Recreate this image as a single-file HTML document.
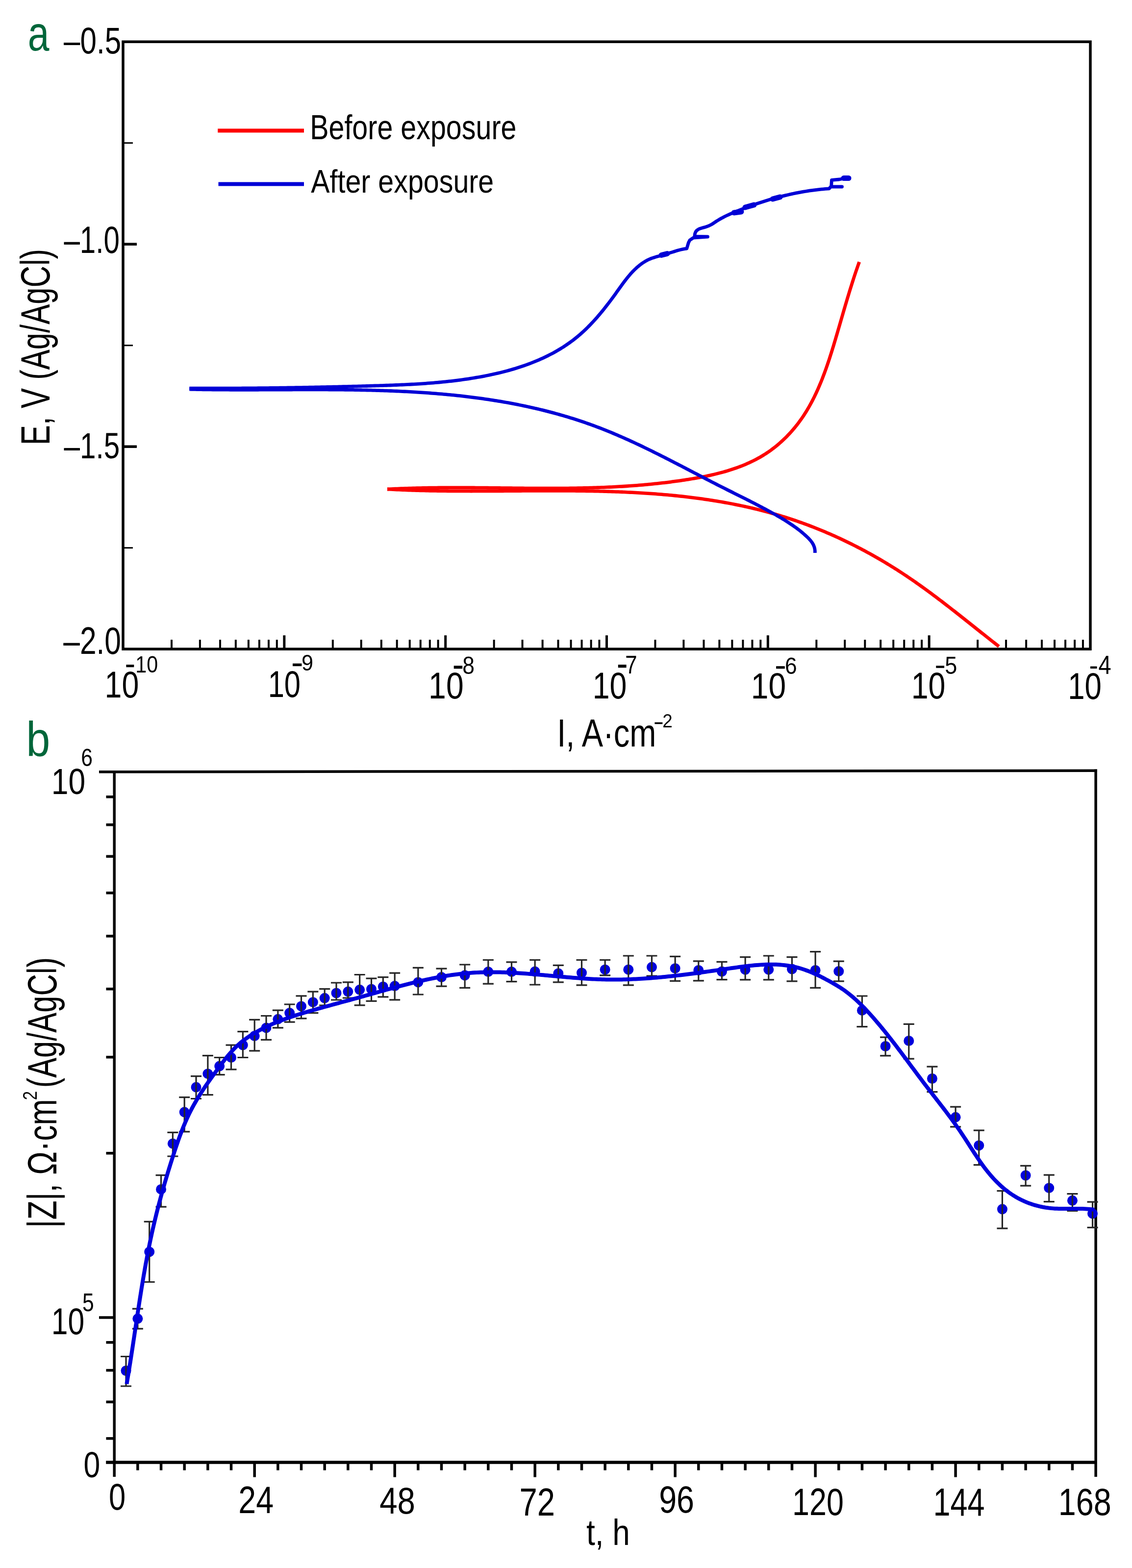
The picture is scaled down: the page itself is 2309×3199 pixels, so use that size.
<!DOCTYPE html>
<html><head><meta charset="utf-8"><title>Polarization curves and impedance modulus</title>
<style>
html,body{margin:0;padding:0;background:#fff;}
svg{display:block;}
text{font-family:"Liberation Sans",Arial,sans-serif;}
</style></head>
<body>
<svg xmlns="http://www.w3.org/2000/svg" width="2309" height="3199" viewBox="0 0 2309 3199">
<rect width="2309" height="3199" fill="#fff"/>
<line x1="349.99" y1="1324.2" x2="349.99" y2="1305.2" stroke="#000" stroke-width="4" stroke-linecap="butt"/>
<line x1="407.89" y1="1324.2" x2="407.89" y2="1305.2" stroke="#000" stroke-width="4" stroke-linecap="butt"/>
<line x1="448.98" y1="1324.2" x2="448.98" y2="1305.2" stroke="#000" stroke-width="4" stroke-linecap="butt"/>
<line x1="480.84" y1="1324.2" x2="480.84" y2="1305.2" stroke="#000" stroke-width="4" stroke-linecap="butt"/>
<line x1="506.88" y1="1324.2" x2="506.88" y2="1305.2" stroke="#000" stroke-width="4" stroke-linecap="butt"/>
<line x1="528.9" y1="1324.2" x2="528.9" y2="1305.2" stroke="#000" stroke-width="4" stroke-linecap="butt"/>
<line x1="547.97" y1="1324.2" x2="547.97" y2="1305.2" stroke="#000" stroke-width="4" stroke-linecap="butt"/>
<line x1="564.79" y1="1324.2" x2="564.79" y2="1305.2" stroke="#000" stroke-width="4" stroke-linecap="butt"/>
<line x1="579.83" y1="1324.2" x2="579.83" y2="1296.2" stroke="#000" stroke-width="5" stroke-linecap="butt"/>
<line x1="678.82" y1="1324.2" x2="678.82" y2="1305.2" stroke="#000" stroke-width="4" stroke-linecap="butt"/>
<line x1="736.73" y1="1324.2" x2="736.73" y2="1305.2" stroke="#000" stroke-width="4" stroke-linecap="butt"/>
<line x1="777.81" y1="1324.2" x2="777.81" y2="1305.2" stroke="#000" stroke-width="4" stroke-linecap="butt"/>
<line x1="809.68" y1="1324.2" x2="809.68" y2="1305.2" stroke="#000" stroke-width="4" stroke-linecap="butt"/>
<line x1="835.72" y1="1324.2" x2="835.72" y2="1305.2" stroke="#000" stroke-width="4" stroke-linecap="butt"/>
<line x1="857.73" y1="1324.2" x2="857.73" y2="1305.2" stroke="#000" stroke-width="4" stroke-linecap="butt"/>
<line x1="876.8" y1="1324.2" x2="876.8" y2="1305.2" stroke="#000" stroke-width="4" stroke-linecap="butt"/>
<line x1="893.62" y1="1324.2" x2="893.62" y2="1305.2" stroke="#000" stroke-width="4" stroke-linecap="butt"/>
<line x1="908.67" y1="1324.2" x2="908.67" y2="1296.2" stroke="#000" stroke-width="5" stroke-linecap="butt"/>
<line x1="1007.66" y1="1324.2" x2="1007.66" y2="1305.2" stroke="#000" stroke-width="4" stroke-linecap="butt"/>
<line x1="1065.56" y1="1324.2" x2="1065.56" y2="1305.2" stroke="#000" stroke-width="4" stroke-linecap="butt"/>
<line x1="1106.64" y1="1324.2" x2="1106.64" y2="1305.2" stroke="#000" stroke-width="4" stroke-linecap="butt"/>
<line x1="1138.51" y1="1324.2" x2="1138.51" y2="1305.2" stroke="#000" stroke-width="4" stroke-linecap="butt"/>
<line x1="1164.55" y1="1324.2" x2="1164.55" y2="1305.2" stroke="#000" stroke-width="4" stroke-linecap="butt"/>
<line x1="1186.56" y1="1324.2" x2="1186.56" y2="1305.2" stroke="#000" stroke-width="4" stroke-linecap="butt"/>
<line x1="1205.63" y1="1324.2" x2="1205.63" y2="1305.2" stroke="#000" stroke-width="4" stroke-linecap="butt"/>
<line x1="1222.45" y1="1324.2" x2="1222.45" y2="1305.2" stroke="#000" stroke-width="4" stroke-linecap="butt"/>
<line x1="1237.5" y1="1324.2" x2="1237.5" y2="1296.2" stroke="#000" stroke-width="5" stroke-linecap="butt"/>
<line x1="1336.49" y1="1324.2" x2="1336.49" y2="1305.2" stroke="#000" stroke-width="4" stroke-linecap="butt"/>
<line x1="1394.39" y1="1324.2" x2="1394.39" y2="1305.2" stroke="#000" stroke-width="4" stroke-linecap="butt"/>
<line x1="1435.48" y1="1324.2" x2="1435.48" y2="1305.2" stroke="#000" stroke-width="4" stroke-linecap="butt"/>
<line x1="1467.34" y1="1324.2" x2="1467.34" y2="1305.2" stroke="#000" stroke-width="4" stroke-linecap="butt"/>
<line x1="1493.38" y1="1324.2" x2="1493.38" y2="1305.2" stroke="#000" stroke-width="4" stroke-linecap="butt"/>
<line x1="1515.4" y1="1324.2" x2="1515.4" y2="1305.2" stroke="#000" stroke-width="4" stroke-linecap="butt"/>
<line x1="1534.47" y1="1324.2" x2="1534.47" y2="1305.2" stroke="#000" stroke-width="4" stroke-linecap="butt"/>
<line x1="1551.29" y1="1324.2" x2="1551.29" y2="1305.2" stroke="#000" stroke-width="4" stroke-linecap="butt"/>
<line x1="1566.33" y1="1324.2" x2="1566.33" y2="1296.2" stroke="#000" stroke-width="5" stroke-linecap="butt"/>
<line x1="1665.32" y1="1324.2" x2="1665.32" y2="1305.2" stroke="#000" stroke-width="4" stroke-linecap="butt"/>
<line x1="1723.23" y1="1324.2" x2="1723.23" y2="1305.2" stroke="#000" stroke-width="4" stroke-linecap="butt"/>
<line x1="1764.31" y1="1324.2" x2="1764.31" y2="1305.2" stroke="#000" stroke-width="4" stroke-linecap="butt"/>
<line x1="1796.18" y1="1324.2" x2="1796.18" y2="1305.2" stroke="#000" stroke-width="4" stroke-linecap="butt"/>
<line x1="1822.22" y1="1324.2" x2="1822.22" y2="1305.2" stroke="#000" stroke-width="4" stroke-linecap="butt"/>
<line x1="1844.23" y1="1324.2" x2="1844.23" y2="1305.2" stroke="#000" stroke-width="4" stroke-linecap="butt"/>
<line x1="1863.3" y1="1324.2" x2="1863.3" y2="1305.2" stroke="#000" stroke-width="4" stroke-linecap="butt"/>
<line x1="1880.12" y1="1324.2" x2="1880.12" y2="1305.2" stroke="#000" stroke-width="4" stroke-linecap="butt"/>
<line x1="1895.17" y1="1324.2" x2="1895.17" y2="1296.2" stroke="#000" stroke-width="5" stroke-linecap="butt"/>
<line x1="1994.16" y1="1324.2" x2="1994.16" y2="1305.2" stroke="#000" stroke-width="4" stroke-linecap="butt"/>
<line x1="2052.06" y1="1324.2" x2="2052.06" y2="1305.2" stroke="#000" stroke-width="4" stroke-linecap="butt"/>
<line x1="2093.14" y1="1324.2" x2="2093.14" y2="1305.2" stroke="#000" stroke-width="4" stroke-linecap="butt"/>
<line x1="2125.01" y1="1324.2" x2="2125.01" y2="1305.2" stroke="#000" stroke-width="4" stroke-linecap="butt"/>
<line x1="2151.05" y1="1324.2" x2="2151.05" y2="1305.2" stroke="#000" stroke-width="4" stroke-linecap="butt"/>
<line x1="2173.06" y1="1324.2" x2="2173.06" y2="1305.2" stroke="#000" stroke-width="4" stroke-linecap="butt"/>
<line x1="2192.13" y1="1324.2" x2="2192.13" y2="1305.2" stroke="#000" stroke-width="4" stroke-linecap="butt"/>
<line x1="2208.95" y1="1324.2" x2="2208.95" y2="1305.2" stroke="#000" stroke-width="4" stroke-linecap="butt"/>
<line x1="251" y1="498.2" x2="279" y2="498.2" stroke="#000" stroke-width="5.5" stroke-linecap="butt"/>
<line x1="251" y1="911.2" x2="279" y2="911.2" stroke="#000" stroke-width="5.5" stroke-linecap="butt"/>
<line x1="251" y1="291.7" x2="271" y2="291.7" stroke="#000" stroke-width="3" stroke-linecap="butt"/>
<line x1="251" y1="704.7" x2="271" y2="704.7" stroke="#000" stroke-width="3" stroke-linecap="butt"/>
<line x1="251" y1="1117.7" x2="271" y2="1117.7" stroke="#000" stroke-width="3" stroke-linecap="butt"/>
<rect x="251" y="85.2" width="1973" height="1239" fill="none" stroke="#000" stroke-width="5.5"/>
<text transform="translate(130 108.64) scale(0.06019 0.07627)" font-size="1000" fill="#000">–0.5</text>
<text transform="translate(130.4 515.93) scale(0.05833 0.07698)" font-size="1000" fill="#000">–1.0</text>
<text transform="translate(130.4 934.55) scale(0.05846 0.07493)" font-size="1000" fill="#000">–1.5</text>
<text transform="translate(129.3 1334.03) scale(0.06048 0.07740)" font-size="1000" fill="#000">–2.0</text>
<text transform="translate(213.53 1423.05) scale(0.06273 0.07542)" font-size="1000" fill="#000">10</text>
<rect x="257.4" y="1356" width="15.9" height="5.2" fill="#000"/>
<text transform="translate(276.26 1372.02) scale(0.04128 0.04831)" font-size="1000" fill="#000">10</text>
<text transform="translate(546.66 1421.55) scale(0.05972 0.07542)" font-size="1000" fill="#000">10</text>
<rect x="597" y="1353.6" width="18.4" height="5.5" fill="#000"/>
<text transform="translate(614.92 1368.45) scale(0.04307 0.04534)" font-size="1000" fill="#000">9</text>
<text transform="translate(874.11 1424.64) scale(0.06433 0.07556)" font-size="1000" fill="#000">10</text>
<rect x="925.7" y="1358.2" width="17.5" height="6.1" fill="#000"/>
<text transform="translate(943.34 1374.5) scale(0.04444 0.04958)" font-size="1000" fill="#000">8</text>
<text transform="translate(1208.73 1424.64) scale(0.06273 0.07556)" font-size="1000" fill="#000">10</text>
<rect x="1260.8" y="1356" width="16.8" height="6.2" fill="#000"/>
<text transform="translate(1275.32 1373.5) scale(0.04383 0.05116)" font-size="1000" fill="#000">7</text>
<text transform="translate(1531.82 1424.67) scale(0.06423 0.07331)" font-size="1000" fill="#000">10</text>
<rect x="1583.1" y="1359.1" width="17.7" height="5.2" fill="#000"/>
<text transform="translate(1600.98 1374.53) scale(0.04437 0.04746)" font-size="1000" fill="#000">6</text>
<text transform="translate(1858.73 1424.64) scale(0.06273 0.07556)" font-size="1000" fill="#000">10</text>
<rect x="1909.3" y="1358.2" width="16.8" height="4.6" fill="#000"/>
<text transform="translate(1927.29 1374.5) scale(0.04515 0.05029)" font-size="1000" fill="#000">5</text>
<text transform="translate(2178.2 1426.44) scale(0.06182 0.07599)" font-size="1000" fill="#000">10</text>
<rect x="2224" y="1359.5" width="13.5" height="4.5" fill="#000"/>
<text transform="translate(2240.47 1375) scale(0.04702 0.05407)" font-size="1000" fill="#000">4</text>
<text transform="translate(1136.22 1523) scale(0.06499 0.07951)" font-size="1000" fill="#000">I, A·cm</text>
<rect x="1335.4" y="1473.6" width="16" height="3.6" fill="#000"/>
<text transform="translate(1351.16 1484.4) scale(0.03684 0.03840)" font-size="1000" fill="#000">2</text>
<text transform="translate(100.5 908.25) rotate(-90) scale(0.06159 0.08299)" font-size="1000" fill="#000">E, V (Ag/AgCl)</text>
<text transform="translate(56.7 102.91) scale(0.07860 0.09945)" font-size="1000" fill="#00663a">a</text>
<line x1="444.2" y1="266.6" x2="620" y2="266.6" stroke="#fe0000" stroke-width="8" stroke-linecap="butt"/>
<line x1="445.5" y1="375.5" x2="620" y2="375.5" stroke="#0000d6" stroke-width="8" stroke-linecap="butt"/>
<text transform="translate(632.19 284.2) scale(0.05742 0.07093)" font-size="1000" fill="#000">Before exposure</text>
<text transform="translate(634.29 393.4) scale(0.05736 0.06686)" font-size="1000" fill="#000">After exposure</text>
<path d="M790.01 997.99 L793.93 998.21 L797.86 998.42 L801.79 998.63 L805.72 998.83 L809.66 999.02 L813.59 999.2 L817.54 999.37 L821.48 999.54 L825.43 999.7 L829.38 999.86 L833.33 1000.01 L837.29 1000.15 L841.25 1000.28 L845.21 1000.41 L849.18 1000.54 L853.14 1000.65 L857.11 1000.76 L861.09 1000.87 L865.06 1000.97 L869.04 1001.06 L873.02 1001.15 L877 1001.23 L880.98 1001.31 L884.97 1001.38 L888.96 1001.45 L892.95 1001.51 L896.95 1001.57 L900.94 1001.63 L904.94 1001.68 L908.94 1001.72 L912.94 1001.76 L916.95 1001.8 L920.96 1001.83 L924.96 1001.86 L928.97 1001.89 L932.99 1001.91 L937 1001.93 L941.02 1001.94 L945.03 1001.96 L949.05 1001.96 L953.08 1001.97 L957.1 1001.97 L961.12 1001.98 L965.15 1001.97 L969.18 1001.97 L973.21 1001.96 L977.24 1001.95 L981.27 1001.94 L985.3 1001.93 L989.34 1001.92 L993.37 1001.9 L997.41 1001.88 L1001.45 1001.86 L1005.49 1001.84 L1009.53 1001.82 L1013.58 1001.8 L1017.62 1001.78 L1021.66 1001.75 L1025.71 1001.73 L1029.76 1001.7 L1033.8 1001.68 L1037.85 1001.65 L1041.9 1001.63 L1045.95 1001.6 L1050.01 1001.57 L1054.06 1001.55 L1058.11 1001.52 L1062.16 1001.5 L1066.22 1001.47 L1070.27 1001.45 L1074.33 1001.43 L1078.38 1001.4 L1082.44 1001.38 L1086.5 1001.36 L1090.56 1001.34 L1094.61 1001.33 L1098.67 1001.31 L1102.73 1001.3 L1106.79 1001.29 L1110.85 1001.28 L1114.91 1001.27 L1118.97 1001.26 L1123.03 1001.26 L1127.09 1001.26 L1131.15 1001.26 L1135.21 1001.27 L1139.27 1001.28 L1143.33 1001.29 L1147.39 1001.3 L1151.45 1001.32 L1155.51 1001.34 L1159.57 1001.36 L1163.63 1001.39 L1167.69 1001.42 L1171.75 1001.45 L1175.8 1001.49 L1179.86 1001.53 L1183.92 1001.58 L1187.98 1001.63 L1192.03 1001.69 L1196.09 1001.75 L1200.15 1001.81 L1204.2 1001.88 L1208.26 1001.96 L1212.31 1002.04 L1216.36 1002.12 L1220.42 1002.22 L1224.47 1002.31 L1228.52 1002.41 L1232.57 1002.52 L1236.62 1002.63 L1240.67 1002.75 L1244.71 1002.88 L1248.76 1003.01 L1252.8 1003.15 L1256.85 1003.29 L1260.89 1003.44 L1264.93 1003.6 L1268.97 1003.77 L1273.01 1003.94 L1277.05 1004.12 L1281.09 1004.3 L1285.13 1004.49 L1289.16 1004.69 L1293.19 1004.9 L1297.22 1005.12 L1301.25 1005.34 L1305.28 1005.57 L1309.31 1005.81 L1313.33 1006.06 L1317.36 1006.32 L1321.38 1006.58 L1325.4 1006.86 L1329.42 1007.14 L1333.44 1007.43 L1337.45 1007.73 L1341.46 1008.04 L1345.48 1008.36 L1349.48 1008.69 L1353.49 1009.02 L1357.5 1009.37 L1361.5 1009.73 L1365.5 1010.09 L1369.5 1010.47 L1373.5 1010.85 L1377.49 1011.25 L1381.49 1011.66 L1385.48 1012.08 L1389.46 1012.5 L1393.45 1012.94 L1397.43 1013.39 L1401.41 1013.85 L1405.39 1014.32 L1409.37 1014.81 L1413.34 1015.3 L1417.31 1015.81 L1421.28 1016.32 L1425.25 1016.85 L1429.21 1017.39 L1433.17 1017.95 L1437.13 1018.51 L1441.08 1019.09 L1445.03 1019.68 L1448.98 1020.28 L1452.93 1020.9 L1456.87 1021.52 L1460.81 1022.16 L1464.75 1022.82 L1468.69 1023.48 L1472.62 1024.16 L1476.54 1024.85 L1480.47 1025.56 L1484.39 1026.28 L1488.31 1027.01 L1492.23 1027.76 L1496.14 1028.52 L1500.05 1029.3 L1503.95 1030.09 L1507.85 1030.89 L1511.75 1031.71 L1515.65 1032.54 L1519.54 1033.39 L1523.43 1034.26 L1527.31 1035.13 L1531.19 1036.03 L1535.07 1036.93 L1538.94 1037.86 L1542.81 1038.8 L1546.68 1039.75 L1550.54 1040.72 L1554.4 1041.71 L1558.25 1042.71 L1562.1 1043.73 L1565.95 1044.76 L1569.79 1045.81 L1573.63 1046.88 L1577.46 1047.96 L1581.29 1049.06 L1585.12 1050.18 L1588.94 1051.32 L1592.76 1052.47 L1596.57 1053.64 L1600.38 1054.82 L1604.18 1056.03 L1607.98 1057.25 L1611.78 1058.48 L1615.57 1059.74 L1619.36 1061.01 L1623.14 1062.3 L1626.91 1063.61 L1630.69 1064.93 L1634.45 1066.27 L1638.22 1067.63 L1641.97 1069 L1645.72 1070.39 L1649.47 1071.8 L1653.21 1073.22 L1656.95 1074.66 L1660.68 1076.12 L1664.41 1077.59 L1668.13 1079.08 L1671.84 1080.59 L1675.55 1082.11 L1679.26 1083.65 L1682.95 1085.2 L1686.65 1086.77 L1690.33 1088.36 L1694.01 1089.96 L1697.69 1091.58 L1701.35 1093.21 L1705.02 1094.86 L1708.67 1096.52 L1712.32 1098.2 L1715.96 1099.9 L1719.6 1101.61 L1723.23 1103.34 L1726.85 1105.08 L1730.47 1106.83 L1734.08 1108.61 L1737.69 1110.39 L1741.28 1112.2 L1744.87 1114.01 L1748.46 1115.85 L1752.03 1117.69 L1755.6 1119.56 L1759.16 1121.43 L1762.72 1123.32 L1766.27 1125.23 L1769.81 1127.15 L1773.34 1129.08 L1776.86 1131.03 L1780.38 1133 L1783.89 1134.98 L1787.39 1136.97 L1790.89 1138.98 L1794.38 1141 L1797.86 1143.03 L1801.33 1145.08 L1804.79 1147.14 L1808.25 1149.22 L1811.69 1151.31 L1815.13 1153.41 L1818.56 1155.53 L1821.98 1157.66 L1825.4 1159.81 L1828.8 1161.97 L1832.2 1164.14 L1835.59 1166.32 L1838.97 1168.52 L1842.34 1170.73 L1845.7 1172.96 L1849.06 1175.19 L1852.4 1177.45 L1855.74 1179.71 L1859.07 1181.98 L1862.39 1184.27 L1865.7 1186.57 L1869.01 1188.88 L1872.3 1191.2 L1875.59 1193.53 L1878.88 1195.87 L1882.15 1198.22 L1885.42 1200.58 L1888.68 1202.95 L1891.94 1205.32 L1895.19 1207.71 L1898.43 1210.1 L1901.67 1212.51 L1904.9 1214.92 L1908.13 1217.33 L1911.35 1219.76 L1914.56 1222.19 L1917.77 1224.63 L1920.98 1227.07 L1924.18 1229.52 L1927.37 1231.98 L1930.57 1234.44 L1933.75 1236.9 L1936.93 1239.37 L1940.11 1241.84 L1943.29 1244.32 L1946.46 1246.8 L1949.63 1249.29 L1952.79 1251.77 L1955.95 1254.26 L1959.11 1256.76 L1962.27 1259.25 L1965.42 1261.75 L1968.57 1264.24 L1971.72 1266.74 L1974.86 1269.24 L1978.01 1271.74 L1981.15 1274.24 L1984.29 1276.74 L1987.43 1279.24 L1990.57 1281.74 L1993.7 1284.24 L1996.84 1286.73 L1999.97 1289.23 L2003.11 1291.72 L2006.24 1294.21 L2009.38 1296.69 L2012.51 1299.18 L2015.64 1301.66 L2018.78 1304.14 L2021.91 1306.61 L2025.05 1309.08 L2028.18 1311.54 L2031.32 1314 L2034.46 1316.46 L2037.59 1318.91" fill="none" stroke="#fe0000" stroke-width="6.8" stroke-linejoin="round" stroke-linecap="butt"/>
<path d="M790 998.01 L794.03 997.8 L798.07 997.6 L802.1 997.4 L806.14 997.22 L810.17 997.05 L814.2 996.88 L818.23 996.72 L822.26 996.57 L826.29 996.42 L830.31 996.29 L834.34 996.16 L838.37 996.04 L842.39 995.92 L846.42 995.81 L850.44 995.71 L854.46 995.62 L858.49 995.53 L862.51 995.45 L866.53 995.37 L870.55 995.3 L874.57 995.24 L878.59 995.18 L882.61 995.12 L886.62 995.08 L890.64 995.03 L894.66 995 L898.67 994.96 L902.69 994.94 L906.7 994.91 L910.72 994.89 L914.73 994.88 L918.75 994.87 L922.76 994.86 L926.77 994.86 L930.78 994.86 L934.79 994.87 L938.8 994.87 L942.81 994.88 L946.82 994.9 L950.83 994.92 L954.84 994.94 L958.85 994.96 L962.86 994.98 L966.87 995.01 L970.87 995.04 L974.88 995.07 L978.89 995.1 L982.89 995.14 L986.9 995.18 L990.9 995.21 L994.91 995.25 L998.91 995.29 L1002.92 995.33 L1006.92 995.38 L1010.93 995.42 L1014.93 995.46 L1018.94 995.5 L1022.94 995.55 L1026.94 995.59 L1030.94 995.63 L1034.95 995.68 L1038.95 995.72 L1042.95 995.76 L1046.95 995.8 L1050.96 995.84 L1054.96 995.88 L1058.96 995.92 L1062.96 995.96 L1066.96 995.99 L1070.97 996.03 L1074.97 996.06 L1078.97 996.09 L1082.97 996.12 L1086.97 996.14 L1090.97 996.17 L1094.97 996.19 L1098.97 996.21 L1102.98 996.22 L1106.98 996.23 L1110.98 996.24 L1114.98 996.25 L1118.98 996.25 L1122.98 996.25 L1126.98 996.24 L1130.99 996.23 L1134.99 996.22 L1138.99 996.2 L1142.99 996.18 L1146.99 996.15 L1151 996.12 L1155 996.09 L1159 996.05 L1163 996 L1167.01 995.95 L1171.01 995.89 L1175.01 995.83 L1179.02 995.76 L1183.02 995.69 L1187.02 995.61 L1191.03 995.52 L1195.03 995.43 L1199.04 995.33 L1203.04 995.22 L1207.05 995.11 L1211.05 994.99 L1215.06 994.86 L1219.07 994.73 L1223.07 994.59 L1227.08 994.44 L1231.09 994.28 L1235.1 994.12 L1239.11 993.94 L1243.12 993.76 L1247.12 993.57 L1251.13 993.38 L1255.14 993.17 L1259.16 992.96 L1263.17 992.73 L1267.18 992.5 L1271.19 992.26 L1275.2 992 L1279.22 991.74 L1283.23 991.47 L1287.24 991.19 L1291.26 990.9 L1295.27 990.6 L1299.29 990.29 L1303.31 989.96 L1307.32 989.63 L1311.34 989.29 L1315.36 988.93 L1319.38 988.57 L1323.4 988.19 L1327.42 987.8 L1331.44 987.4 L1335.46 986.99 L1339.49 986.57 L1343.51 986.14 L1347.53 985.69 L1351.56 985.23 L1355.58 984.76 L1359.61 984.27 L1363.64 983.78 L1367.66 983.27 L1371.69 982.74 L1375.72 982.21 L1379.75 981.66 L1383.78 981.09 L1387.82 980.52 L1391.85 979.93 L1395.88 979.32 L1399.92 978.7 L1403.95 978.07 L1407.98 977.42 L1412.01 976.75 L1416.04 976.06 L1420.06 975.36 L1424.08 974.63 L1428.1 973.88 L1432.11 973.12 L1436.11 972.33 L1440.1 971.51 L1444.09 970.67 L1448.07 969.81 L1452.03 968.91 L1455.99 968 L1459.93 967.05 L1463.87 966.07 L1467.78 965.07 L1471.69 964.03 L1475.58 962.96 L1479.45 961.86 L1483.31 960.72 L1487.15 959.55 L1490.97 958.34 L1494.78 957.1 L1498.56 955.82 L1502.33 954.5 L1506.07 953.14 L1509.79 951.74 L1513.49 950.3 L1517.16 948.82 L1520.81 947.3 L1524.43 945.73 L1528.03 944.11 L1531.6 942.46 L1535.15 940.75 L1538.66 939 L1542.15 937.19 L1545.6 935.34 L1549.03 933.44 L1552.42 931.49 L1555.78 929.48 L1559.11 927.43 L1562.41 925.31 L1565.66 923.15 L1568.89 920.93 L1572.08 918.67 L1575.23 916.35 L1578.35 913.98 L1581.43 911.56 L1584.48 909.09 L1587.49 906.58 L1590.46 904.02 L1593.4 901.41 L1596.29 898.76 L1599.15 896.07 L1601.97 893.33 L1604.75 890.54 L1607.5 887.72 L1610.2 884.86 L1612.86 881.95 L1615.49 879 L1618.07 876.02 L1620.61 873 L1623.11 869.94 L1625.57 866.84 L1627.99 863.71 L1630.36 860.55 L1632.69 857.35 L1634.98 854.11 L1637.23 850.85 L1639.43 847.55 L1641.6 844.22 L1643.72 840.86 L1645.8 837.48 L1647.84 834.06 L1649.84 830.62 L1651.81 827.15 L1653.73 823.65 L1655.63 820.13 L1657.48 816.58 L1659.3 813.01 L1661.09 809.42 L1662.85 805.8 L1664.57 802.17 L1666.26 798.51 L1667.93 794.83 L1669.56 791.14 L1671.16 787.42 L1672.74 783.69 L1674.29 779.94 L1675.82 776.18 L1677.31 772.4 L1678.79 768.61 L1680.24 764.8 L1681.67 760.98 L1683.07 757.15 L1684.46 753.31 L1685.82 749.45 L1687.17 745.59 L1688.5 741.72 L1689.8 737.84 L1691.1 733.96 L1692.37 730.07 L1693.63 726.17 L1694.88 722.27 L1696.11 718.36 L1697.34 714.45 L1698.54 710.54 L1699.74 706.63 L1700.93 702.72 L1702.11 698.8 L1703.28 694.89 L1704.44 690.98 L1705.59 687.07 L1706.74 683.17 L1707.89 679.27 L1709.03 675.37 L1710.16 671.48 L1711.3 667.59 L1712.43 663.71 L1713.55 659.83 L1714.68 655.96 L1715.8 652.09 L1716.92 648.22 L1718.05 644.36 L1719.17 640.51 L1720.29 636.66 L1721.42 632.81 L1722.54 628.97 L1723.67 625.13 L1724.8 621.3 L1725.94 617.47 L1727.08 613.64 L1728.22 609.82 L1729.36 606.01 L1730.52 602.2 L1731.67 598.39 L1732.84 594.58 L1734.01 590.79 L1735.18 586.99 L1736.37 583.2 L1737.56 579.42 L1738.77 575.63 L1739.98 571.86 L1741.2 568.08 L1742.43 564.31 L1743.67 560.55 L1744.92 556.79 L1746.19 553.03 L1747.47 549.28 L1748.76 545.53 L1750.06 541.78 L1751.38 538.04 L1752.71 534.31" fill="none" stroke="#fe0000" stroke-width="6.8" stroke-linejoin="round" stroke-linecap="butt"/>
<path d="M386.3 794.2 L390.26 794.29 L394.23 794.37 L398.19 794.45 L402.16 794.53 L406.13 794.6 L410.11 794.66 L414.08 794.73 L418.06 794.78 L422.04 794.84 L426.02 794.89 L430 794.94 L433.99 794.98 L437.98 795.02 L441.97 795.06 L445.96 795.09 L449.95 795.12 L453.94 795.15 L457.94 795.17 L461.94 795.19 L465.94 795.21 L469.94 795.23 L473.95 795.24 L477.95 795.25 L481.96 795.26 L485.97 795.26 L489.98 795.27 L493.99 795.27 L498 795.27 L502.01 795.27 L506.03 795.27 L510.05 795.26 L514.07 795.25 L518.09 795.25 L522.11 795.24 L526.13 795.23 L530.15 795.22 L534.18 795.2 L538.2 795.19 L542.23 795.18 L546.26 795.16 L550.29 795.15 L554.32 795.13 L558.35 795.12 L562.38 795.1 L566.42 795.09 L570.45 795.07 L574.48 795.06 L578.52 795.04 L582.56 795.02 L586.6 795.01 L590.63 795 L594.67 794.98 L598.71 794.97 L602.75 794.96 L606.79 794.95 L610.84 794.94 L614.88 794.93 L618.92 794.92 L622.96 794.92 L627.01 794.91 L631.05 794.91 L635.1 794.91 L639.14 794.91 L643.19 794.91 L647.23 794.92 L651.28 794.92 L655.33 794.93 L659.37 794.94 L663.42 794.96 L667.47 794.97 L671.51 794.99 L675.56 795.01 L679.61 795.04 L683.66 795.07 L687.7 795.1 L691.75 795.13 L695.8 795.17 L699.85 795.21 L703.89 795.26 L707.94 795.3 L711.99 795.35 L716.03 795.41 L720.08 795.47 L724.13 795.53 L728.17 795.6 L732.22 795.67 L736.26 795.75 L740.31 795.83 L744.35 795.92 L748.4 796.01 L752.44 796.1 L756.48 796.2 L760.53 796.31 L764.57 796.42 L768.61 796.53 L772.65 796.65 L776.69 796.78 L780.73 796.91 L784.77 797.05 L788.8 797.19 L792.84 797.34 L796.88 797.49 L800.91 797.65 L804.95 797.82 L808.98 797.99 L813.01 798.17 L817.04 798.36 L821.07 798.55 L825.1 798.75 L829.13 798.96 L833.16 799.17 L837.19 799.39 L841.21 799.62 L845.23 799.85 L849.26 800.1 L853.28 800.34 L857.3 800.6 L861.32 800.87 L865.33 801.14 L869.35 801.42 L873.36 801.71 L877.38 802 L881.39 802.31 L885.4 802.62 L889.41 802.94 L893.41 803.27 L897.42 803.61 L901.42 803.96 L905.43 804.31 L909.43 804.68 L913.42 805.05 L917.42 805.44 L921.42 805.83 L925.41 806.23 L929.4 806.64 L933.39 807.06 L937.38 807.49 L941.36 807.93 L945.35 808.38 L949.33 808.84 L953.31 809.31 L957.29 809.79 L961.26 810.28 L965.23 810.79 L969.21 811.3 L973.17 811.82 L977.14 812.35 L981.11 812.9 L985.07 813.45 L989.03 814.02 L992.98 814.6 L996.94 815.18 L1000.89 815.78 L1004.84 816.4 L1008.79 817.02 L1012.74 817.65 L1016.68 818.3 L1020.62 818.96 L1024.56 819.63 L1028.49 820.31 L1032.42 821.01 L1036.35 821.71 L1040.28 822.43 L1044.2 823.17 L1048.12 823.91 L1052.04 824.67 L1055.96 825.44 L1059.87 826.22 L1063.78 827.02 L1067.69 827.83 L1071.59 828.65 L1075.49 829.49 L1079.39 830.34 L1083.28 831.2 L1087.17 832.08 L1091.06 832.97 L1094.95 833.87 L1098.83 834.79 L1102.71 835.73 L1106.58 836.67 L1110.46 837.64 L1114.33 838.61 L1118.19 839.6 L1122.05 840.61 L1125.91 841.63 L1129.77 842.66 L1133.62 843.71 L1137.47 844.78 L1141.31 845.86 L1145.15 846.96 L1148.99 848.07 L1152.83 849.19 L1156.66 850.34 L1160.48 851.49 L1164.31 852.67 L1168.12 853.86 L1171.94 855.06 L1175.75 856.29 L1179.56 857.53 L1183.36 858.78 L1187.16 860.05 L1190.96 861.34 L1194.75 862.64 L1198.54 863.97 L1202.32 865.3 L1206.1 866.66 L1209.88 868.03 L1213.65 869.42 L1217.42 870.83 L1221.18 872.25 L1224.94 873.7 L1228.69 875.15 L1232.45 876.63 L1236.19 878.12 L1239.93 879.63 L1243.67 881.16 L1247.41 882.7 L1251.14 884.26 L1254.86 885.83 L1258.58 887.42 L1262.3 889.02 L1266.02 890.63 L1269.73 892.26 L1273.43 893.9 L1277.13 895.55 L1280.83 897.22 L1284.53 898.89 L1288.22 900.58 L1291.91 902.28 L1295.59 904 L1299.27 905.72 L1302.95 907.45 L1306.62 909.19 L1310.29 910.94 L1313.95 912.7 L1317.61 914.47 L1321.27 916.25 L1324.93 918.03 L1328.58 919.82 L1332.23 921.62 L1335.87 923.43 L1339.51 925.24 L1343.15 927.06 L1346.79 928.89 L1350.42 930.72 L1354.05 932.55 L1357.67 934.39 L1361.29 936.24 L1364.91 938.08 L1368.53 939.94 L1372.14 941.79 L1375.75 943.65 L1379.36 945.51 L1382.96 947.37 L1386.56 949.23 L1390.16 951.1 L1393.75 952.96 L1397.34 954.83 L1400.93 956.7 L1404.52 958.56 L1408.1 960.43 L1411.68 962.29 L1415.26 964.16 L1418.83 966.02 L1422.41 967.88 L1425.98 969.74 L1429.54 971.59 L1433.11 973.45 L1436.67 975.29 L1440.23 977.14 L1443.78 978.98 L1447.34 980.82 L1450.89 982.65 L1454.44 984.47 L1457.99 986.29 L1461.53 988.11 L1465.07 989.91 L1468.61 991.72 L1472.15 993.51 L1475.69 995.3 L1479.22 997.08 L1482.75 998.85 L1486.28 1000.62 L1489.81 1002.39 L1493.34 1004.16 L1496.87 1005.92 L1500.4 1007.69 L1503.93 1009.45 L1507.46 1011.22 L1510.99 1012.98 L1514.53 1014.76 L1518.06 1016.53 L1521.6 1018.32 L1525.14 1020.1 L1528.68 1021.9 L1532.22 1023.71 L1535.77 1025.52 L1539.32 1027.35 L1542.88 1029.18 L1546.44 1031.03 L1550 1032.89 L1553.57 1034.77 L1557.14 1036.66 L1560.72 1038.57 L1564.31 1040.49 L1567.9 1042.44 L1571.5 1044.4 L1575.1 1046.38 L1578.7 1048.39 L1582.29 1050.41 L1585.88 1052.46 L1589.45 1054.54 L1593.02 1056.64 L1596.56 1058.76 L1600.08 1060.91 L1603.58 1063.09 L1607.05 1065.3 L1610.49 1067.54 L1613.89 1069.82 L1617.25 1072.12 L1620.58 1074.46 L1623.86 1076.83 L1627.09 1079.24 L1630.26 1081.68 L1633.39 1084.16 L1636.45 1086.68 L1639.45 1089.23 L1642.39 1091.83 L1645.26 1094.47 L1648.05 1097.15 L1650.74 1099.9 L1653.27 1102.74 L1655.59 1105.72 L1657.66 1108.85 L1659.42 1112.17 L1660.82 1115.71 L1661.82 1119.51 L1662.36 1123.6 L1662.4 1128" fill="none" stroke="#0000d6" stroke-width="6.8" stroke-linejoin="round" stroke-linecap="butt"/>
<path d="M386.3 792.2 L390.31 792.21 L394.32 792.23 L398.33 792.24 L402.33 792.25 L406.34 792.25 L410.36 792.26 L414.37 792.26 L418.38 792.27 L422.39 792.27 L426.4 792.27 L430.42 792.26 L434.43 792.26 L438.44 792.26 L442.46 792.25 L446.47 792.24 L450.49 792.23 L454.5 792.22 L458.52 792.21 L462.54 792.19 L466.55 792.18 L470.57 792.16 L474.59 792.14 L478.61 792.12 L482.62 792.1 L486.64 792.07 L490.66 792.05 L494.68 792.02 L498.7 791.99 L502.72 791.96 L506.74 791.93 L510.76 791.9 L514.78 791.87 L518.8 791.83 L522.82 791.79 L526.84 791.76 L530.86 791.72 L534.89 791.67 L538.91 791.63 L542.93 791.59 L546.95 791.54 L550.97 791.49 L554.99 791.44 L559.02 791.39 L563.04 791.34 L567.06 791.29 L571.08 791.24 L575.1 791.18 L579.13 791.12 L583.15 791.06 L587.17 791 L591.19 790.94 L595.22 790.88 L599.24 790.82 L603.26 790.75 L607.28 790.68 L611.31 790.61 L615.33 790.54 L619.35 790.47 L623.37 790.4 L627.39 790.33 L631.41 790.25 L635.44 790.17 L639.46 790.1 L643.48 790.02 L647.5 789.94 L651.52 789.85 L655.54 789.77 L659.56 789.69 L663.58 789.6 L667.6 789.51 L671.62 789.42 L675.64 789.33 L679.66 789.24 L683.68 789.15 L687.7 789.05 L691.72 788.96 L695.74 788.86 L699.75 788.76 L703.77 788.67 L707.79 788.56 L711.81 788.46 L715.82 788.36 L719.84 788.26 L723.85 788.15 L727.87 788.04 L731.88 787.93 L735.9 787.82 L739.91 787.71 L743.93 787.6 L747.94 787.49 L751.95 787.37 L755.96 787.26 L759.98 787.14 L763.99 787.02 L768 786.9 L772.01 786.78 L776.02 786.65 L780.03 786.53 L784.03 786.39 L788.04 786.26 L792.05 786.12 L796.06 785.98 L800.06 785.83 L804.07 785.68 L808.07 785.52 L812.08 785.35 L816.08 785.18 L820.09 785.01 L824.09 784.82 L828.09 784.63 L832.09 784.44 L836.09 784.23 L840.1 784.02 L844.1 783.8 L848.09 783.56 L852.09 783.32 L856.09 783.08 L860.09 782.82 L864.09 782.55 L868.08 782.27 L872.08 781.98 L876.07 781.68 L880.07 781.36 L884.06 781.04 L888.06 780.7 L892.05 780.35 L896.04 779.99 L900.03 779.61 L904.02 779.22 L908.01 778.82 L912 778.4 L915.99 777.97 L919.98 777.52 L923.97 777.06 L927.95 776.58 L931.94 776.09 L935.92 775.58 L939.91 775.05 L943.89 774.5 L947.88 773.94 L951.86 773.36 L955.84 772.77 L959.82 772.15 L963.8 771.51 L967.78 770.86 L971.76 770.19 L975.74 769.49 L979.71 768.78 L983.69 768.05 L987.66 767.29 L991.64 766.52 L995.61 765.72 L999.57 764.9 L1003.53 764.05 L1007.49 763.19 L1011.44 762.3 L1015.39 761.38 L1019.33 760.44 L1023.26 759.47 L1027.18 758.48 L1031.1 757.46 L1035.01 756.42 L1038.91 755.35 L1042.8 754.25 L1046.68 753.12 L1050.54 751.96 L1054.4 750.77 L1058.25 749.56 L1062.08 748.31 L1065.9 747.03 L1069.7 745.72 L1073.49 744.38 L1077.27 743.01 L1081.03 741.6 L1084.77 740.16 L1088.5 738.69 L1092.21 737.18 L1095.9 735.64 L1099.57 734.07 L1103.23 732.45 L1106.86 730.81 L1110.48 729.12 L1114.07 727.4 L1117.65 725.64 L1121.2 723.84 L1124.73 722.01 L1128.24 720.13 L1131.72 718.22 L1135.18 716.26 L1138.61 714.27 L1142.02 712.23 L1145.4 710.15 L1148.76 708.04 L1152.09 705.87 L1155.39 703.67 L1158.67 701.42 L1161.91 699.13 L1165.13 696.79 L1168.31 694.41 L1171.47 691.99 L1174.6 689.51 L1177.69 687 L1180.75 684.43 L1183.78 681.82 L1186.78 679.16 L1189.74 676.46 L1192.68 673.72 L1195.59 670.94 L1198.46 668.12 L1201.31 665.26 L1204.13 662.36 L1206.92 659.44 L1209.69 656.47 L1212.42 653.48 L1215.14 650.46 L1217.82 647.41 L1220.49 644.34 L1223.13 641.24 L1225.74 638.11 L1228.33 634.97 L1230.9 631.8 L1233.45 628.62 L1235.98 625.42 L1238.48 622.2 L1240.97 618.97 L1243.44 615.73 L1245.89 612.48 L1248.32 609.22 L1250.73 605.95 L1253.12 602.67 L1255.5 599.39 L1257.86 596.11 L1260.21 592.83 L1262.55 589.55 L1264.89 586.28 L1267.24 583.03 L1269.59 579.79 L1271.96 576.58 L1274.35 573.4 L1276.76 570.25 L1279.22 567.14 L1281.71 564.08 L1284.25 561.07 L1286.84 558.11 L1289.49 555.21 L1292.21 552.37 L1295 549.61 L1297.86 546.92 L1300.81 544.31 L1303.84 541.78 L1306.97 539.35 L1310.21 537.01 L1313.54 534.79 L1316.96 532.7 L1320.47 530.78 L1324.06 529.04 L1327.73 527.51 L1331.46 526.15 L1335.25 524.92 L1339.07 523.8 L1342.92 522.75 L1346.78 521.73 L1350.64 520.7 L1354.49 519.63 L1358.31 518.5 L1362.12 517.31 L1365.91 516.09 L1369.7 514.86 L1373.49 513.64 L1377.3 512.44 L1381.13 511.3 L1384.98 510.23 L1388.86 509.26 L1392.79 508.4 L1396.77 507.67 L1400.8 507.1 L1400.8 507.1 L1404.4 495 L1407 490 L1414.2 485.2 L1443.5 483 L1416.7 482.5 L1417.5 476.7 L1417.5 476.7 L1419.13 472.72 L1421.62 469.81 L1424.77 467.71 L1428.39 466.19 L1432.29 465 L1436.27 463.9 L1440.19 462.71 L1444.01 461.36 L1447.72 459.81 L1451.27 458.01 L1454.67 455.93 L1457.97 453.67 L1461.29 451.44 L1464.67 449.3 L1468.12 447.25 L1471.62 445.28 L1475.16 443.38 L1478.76 441.55 L1482.39 439.78 L1486.06 438.07 L1489.76 436.4 L1493.49 434.78 L1497.25 433.19 L1501.02 431.63 L1504.8 430.1 L1508.6 428.58 L1512.4 427.09 L1516.22 425.61 L1520.04 424.15 L1523.87 422.71 L1527.72 421.29 L1531.57 419.89 L1535.43 418.52 L1539.3 417.16 L1543.18 415.83 L1547.07 414.51 L1550.97 413.22 L1554.87 411.95 L1558.78 410.71 L1562.7 409.49 L1566.63 408.29 L1570.57 407.11 L1574.51 405.96 L1578.46 404.84 L1582.42 403.74 L1586.38 402.66 L1590.35 401.62 L1594.33 400.59 L1598.31 399.6 L1602.3 398.63 L1606.3 397.69 L1610.3 396.77 L1614.3 395.88 L1618.32 395.02 L1622.34 394.19 L1626.36 393.39 L1630.39 392.62 L1634.42 391.88 L1638.46 391.17 L1642.5 390.49 L1646.55 389.83 L1650.6 389.21 L1654.65 388.63 L1658.71 388.07 L1662.77 387.54 L1666.84 387.05 L1670.91 386.59 L1674.98 386.17 L1679.06 385.77 L1683.14 385.41 L1687.22 385.09 L1691.3 384.8 L1691.3 384.8 L1694.5 381 L1717.5 381 L1695.5 381 L1696.5 367.3 L1712 366 L1724 363.5 L1733 363.5" fill="none" stroke="#0000d6" stroke-width="6.8" stroke-linejoin="round" stroke-linecap="butt"/>
<line x1="1349" y1="520.5" x2="1361" y2="517.5" stroke="#0000d6" stroke-width="11" stroke-linecap="round"/>
<line x1="1497" y1="434" x2="1512" y2="432" stroke="#0000d6" stroke-width="11" stroke-linecap="round"/>
<line x1="1520" y1="423" x2="1538" y2="418" stroke="#0000d6" stroke-width="11" stroke-linecap="round"/>
<line x1="1576" y1="406" x2="1591" y2="402" stroke="#0000d6" stroke-width="11" stroke-linecap="round"/>
<line x1="1721" y1="363.5" x2="1731" y2="363.5" stroke="#0000d6" stroke-width="11" stroke-linecap="round"/>
<line x1="202" y1="1574.8" x2="2237.85" y2="1572.3" stroke="#000" stroke-width="5.5" stroke-linecap="butt"/>
<line x1="233.2" y1="1572" x2="233.2" y2="3013" stroke="#000" stroke-width="5.5" stroke-linecap="butt"/>
<line x1="2235.1" y1="1569.5" x2="2235.1" y2="3013" stroke="#000" stroke-width="5.5" stroke-linecap="butt"/>
<line x1="216.2" y1="2983.6" x2="2235.1" y2="2983.6" stroke="#000" stroke-width="6.5" stroke-linecap="butt"/>
<line x1="202" y1="2688" x2="233.2" y2="2688" stroke="#000" stroke-width="5.5" stroke-linecap="butt"/>
<line x1="216.5" y1="2352.75" x2="233.2" y2="2352.75" stroke="#000" stroke-width="5.5" stroke-linecap="butt"/>
<line x1="216.5" y1="2156.76" x2="233.2" y2="2156.76" stroke="#000" stroke-width="5.5" stroke-linecap="butt"/>
<line x1="216.5" y1="2017.71" x2="233.2" y2="2017.71" stroke="#000" stroke-width="5.5" stroke-linecap="butt"/>
<line x1="216.5" y1="1909.85" x2="233.2" y2="1909.85" stroke="#000" stroke-width="5.5" stroke-linecap="butt"/>
<line x1="216.5" y1="1821.72" x2="233.2" y2="1821.72" stroke="#000" stroke-width="5.5" stroke-linecap="butt"/>
<line x1="216.5" y1="1747.21" x2="233.2" y2="1747.21" stroke="#000" stroke-width="5.5" stroke-linecap="butt"/>
<line x1="216.5" y1="1682.66" x2="233.2" y2="1682.66" stroke="#000" stroke-width="5.5" stroke-linecap="butt"/>
<line x1="216.5" y1="1625.73" x2="233.2" y2="1625.73" stroke="#000" stroke-width="5.5" stroke-linecap="butt"/>
<line x1="216.5" y1="2934.72" x2="233.2" y2="2934.72" stroke="#000" stroke-width="5.5" stroke-linecap="butt"/>
<line x1="216.5" y1="2860.21" x2="233.2" y2="2860.21" stroke="#000" stroke-width="5.5" stroke-linecap="butt"/>
<line x1="216.5" y1="2795.66" x2="233.2" y2="2795.66" stroke="#000" stroke-width="5.5" stroke-linecap="butt"/>
<line x1="216.5" y1="2738.73" x2="233.2" y2="2738.73" stroke="#000" stroke-width="5.5" stroke-linecap="butt"/>
<line x1="280.86" y1="2983.6" x2="280.86" y2="2999.6" stroke="#000" stroke-width="5.5" stroke-linecap="butt"/>
<line x1="328.53" y1="2983.6" x2="328.53" y2="2999.6" stroke="#000" stroke-width="5.5" stroke-linecap="butt"/>
<line x1="376.19" y1="2983.6" x2="376.19" y2="2999.6" stroke="#000" stroke-width="5.5" stroke-linecap="butt"/>
<line x1="423.86" y1="2983.6" x2="423.86" y2="2999.6" stroke="#000" stroke-width="5.5" stroke-linecap="butt"/>
<line x1="471.52" y1="2983.6" x2="471.52" y2="2999.6" stroke="#000" stroke-width="5.5" stroke-linecap="butt"/>
<line x1="519.19" y1="2983.6" x2="519.19" y2="3013.6" stroke="#000" stroke-width="5.5" stroke-linecap="butt"/>
<line x1="566.85" y1="2983.6" x2="566.85" y2="2999.6" stroke="#000" stroke-width="5.5" stroke-linecap="butt"/>
<line x1="614.51" y1="2983.6" x2="614.51" y2="2999.6" stroke="#000" stroke-width="5.5" stroke-linecap="butt"/>
<line x1="662.18" y1="2983.6" x2="662.18" y2="2999.6" stroke="#000" stroke-width="5.5" stroke-linecap="butt"/>
<line x1="709.84" y1="2983.6" x2="709.84" y2="2999.6" stroke="#000" stroke-width="5.5" stroke-linecap="butt"/>
<line x1="757.51" y1="2983.6" x2="757.51" y2="2999.6" stroke="#000" stroke-width="5.5" stroke-linecap="butt"/>
<line x1="805.17" y1="2983.6" x2="805.17" y2="3013.6" stroke="#000" stroke-width="5.5" stroke-linecap="butt"/>
<line x1="852.84" y1="2983.6" x2="852.84" y2="2999.6" stroke="#000" stroke-width="5.5" stroke-linecap="butt"/>
<line x1="900.5" y1="2983.6" x2="900.5" y2="2999.6" stroke="#000" stroke-width="5.5" stroke-linecap="butt"/>
<line x1="948.16" y1="2983.6" x2="948.16" y2="2999.6" stroke="#000" stroke-width="5.5" stroke-linecap="butt"/>
<line x1="995.83" y1="2983.6" x2="995.83" y2="2999.6" stroke="#000" stroke-width="5.5" stroke-linecap="butt"/>
<line x1="1043.49" y1="2983.6" x2="1043.49" y2="2999.6" stroke="#000" stroke-width="5.5" stroke-linecap="butt"/>
<line x1="1091.16" y1="2983.6" x2="1091.16" y2="3013.6" stroke="#000" stroke-width="5.5" stroke-linecap="butt"/>
<line x1="1138.82" y1="2983.6" x2="1138.82" y2="2999.6" stroke="#000" stroke-width="5.5" stroke-linecap="butt"/>
<line x1="1186.49" y1="2983.6" x2="1186.49" y2="2999.6" stroke="#000" stroke-width="5.5" stroke-linecap="butt"/>
<line x1="1234.15" y1="2983.6" x2="1234.15" y2="2999.6" stroke="#000" stroke-width="5.5" stroke-linecap="butt"/>
<line x1="1281.81" y1="2983.6" x2="1281.81" y2="2999.6" stroke="#000" stroke-width="5.5" stroke-linecap="butt"/>
<line x1="1329.48" y1="2983.6" x2="1329.48" y2="2999.6" stroke="#000" stroke-width="5.5" stroke-linecap="butt"/>
<line x1="1377.14" y1="2983.6" x2="1377.14" y2="3013.6" stroke="#000" stroke-width="5.5" stroke-linecap="butt"/>
<line x1="1424.81" y1="2983.6" x2="1424.81" y2="2999.6" stroke="#000" stroke-width="5.5" stroke-linecap="butt"/>
<line x1="1472.47" y1="2983.6" x2="1472.47" y2="2999.6" stroke="#000" stroke-width="5.5" stroke-linecap="butt"/>
<line x1="1520.14" y1="2983.6" x2="1520.14" y2="2999.6" stroke="#000" stroke-width="5.5" stroke-linecap="butt"/>
<line x1="1567.8" y1="2983.6" x2="1567.8" y2="2999.6" stroke="#000" stroke-width="5.5" stroke-linecap="butt"/>
<line x1="1615.46" y1="2983.6" x2="1615.46" y2="2999.6" stroke="#000" stroke-width="5.5" stroke-linecap="butt"/>
<line x1="1663.13" y1="2983.6" x2="1663.13" y2="3013.6" stroke="#000" stroke-width="5.5" stroke-linecap="butt"/>
<line x1="1710.79" y1="2983.6" x2="1710.79" y2="2999.6" stroke="#000" stroke-width="5.5" stroke-linecap="butt"/>
<line x1="1758.46" y1="2983.6" x2="1758.46" y2="2999.6" stroke="#000" stroke-width="5.5" stroke-linecap="butt"/>
<line x1="1806.12" y1="2983.6" x2="1806.12" y2="2999.6" stroke="#000" stroke-width="5.5" stroke-linecap="butt"/>
<line x1="1853.79" y1="2983.6" x2="1853.79" y2="2999.6" stroke="#000" stroke-width="5.5" stroke-linecap="butt"/>
<line x1="1901.45" y1="2983.6" x2="1901.45" y2="2999.6" stroke="#000" stroke-width="5.5" stroke-linecap="butt"/>
<line x1="1949.11" y1="2983.6" x2="1949.11" y2="3013.6" stroke="#000" stroke-width="5.5" stroke-linecap="butt"/>
<line x1="1996.78" y1="2983.6" x2="1996.78" y2="2999.6" stroke="#000" stroke-width="5.5" stroke-linecap="butt"/>
<line x1="2044.44" y1="2983.6" x2="2044.44" y2="2999.6" stroke="#000" stroke-width="5.5" stroke-linecap="butt"/>
<line x1="2092.11" y1="2983.6" x2="2092.11" y2="2999.6" stroke="#000" stroke-width="5.5" stroke-linecap="butt"/>
<line x1="2139.77" y1="2983.6" x2="2139.77" y2="2999.6" stroke="#000" stroke-width="5.5" stroke-linecap="butt"/>
<line x1="2187.44" y1="2983.6" x2="2187.44" y2="2999.6" stroke="#000" stroke-width="5.5" stroke-linecap="butt"/>
<text transform="translate(104.86 1619.65) scale(0.06242 0.07500)" font-size="1000" fill="#000">10</text>
<text transform="translate(165.17 1563.11) scale(0.04264 0.04915)" font-size="1000" fill="#000">6</text>
<text transform="translate(104.69 2722.05) scale(0.06062 0.07514)" font-size="1000" fill="#000">10</text>
<text transform="translate(168.1 2674.59) scale(0.04262 0.05115)" font-size="1000" fill="#000">5</text>
<text transform="translate(170.57 3013.66) scale(0.06067 0.07401)" font-size="1000" fill="#000">0</text>
<text transform="translate(221.94 3079.84) scale(0.06151 0.07599)" font-size="1000" fill="#000">0</text>
<text transform="translate(486.37 3086.5) scale(0.06451 0.07851)" font-size="1000" fill="#000">24</text>
<text transform="translate(774.26 3088.13) scale(0.06539 0.07655)" font-size="1000" fill="#000">48</text>
<text transform="translate(1059.41 3092.1) scale(0.06525 0.07880)" font-size="1000" fill="#000">72</text>
<text transform="translate(1344.13 3086.42) scale(0.06458 0.07768)" font-size="1000" fill="#000">96</text>
<text transform="translate(1616.02 3091.32) scale(0.06287 0.07768)" font-size="1000" fill="#000">120</text>
<text transform="translate(1903.51 3092.1) scale(0.06298 0.07994)" font-size="1000" fill="#000">144</text>
<text transform="translate(2158.78 3091.32) scale(0.06473 0.07768)" font-size="1000" fill="#000">168</text>
<text transform="translate(1195.98 3151.6) scale(0.06399 0.07500)" font-size="1000" fill="#000">t, h</text>
<text transform="translate(53.6 1543.4) scale(0.08756 0.10000)" font-size="1000" fill="#00663a">b</text>
<text transform="translate(114.8 2505.17) rotate(-90) scale(0.06415 0.08343)" font-size="1000" fill="#000">|Z|, Ω·cm</text>
<text transform="translate(74.5 2244.38) rotate(-90) scale(0.03355 0.04069)" font-size="1000" fill="#000">2</text>
<text transform="translate(114.8 2219.31) rotate(-90) scale(0.06143 0.08343)" font-size="1000" fill="#000">(Ag/AgCl)</text>
<g fill="#0000dc"><circle cx="257.03" cy="2796.5" r="10.5"/><circle cx="280.86" cy="2690.3" r="10.5"/><circle cx="304.7" cy="2553.9" r="10.5"/><circle cx="328.53" cy="2426.4" r="10.5"/><circle cx="352.36" cy="2333.2" r="10.5"/><circle cx="376.19" cy="2268.8" r="10.5"/><circle cx="400.02" cy="2218.1" r="10.5"/><circle cx="423.86" cy="2190.7" r="10.5"/><circle cx="447.69" cy="2175.1" r="10.5"/><circle cx="471.52" cy="2157.5" r="10.5"/><circle cx="495.35" cy="2132.1" r="10.5"/><circle cx="519.19" cy="2113.5" r="10.5"/><circle cx="543.02" cy="2096.9" r="10.5"/><circle cx="566.85" cy="2079.3" r="10.5"/><circle cx="590.68" cy="2066.6" r="10.5"/><circle cx="614.51" cy="2052.9" r="10.5"/><circle cx="638.35" cy="2044.7" r="10.5"/><circle cx="662.18" cy="2036.3" r="10.5"/><circle cx="686.01" cy="2026" r="10.5"/><circle cx="709.84" cy="2023.1" r="10.5"/><circle cx="733.67" cy="2019.3" r="10.5"/><circle cx="757.51" cy="2018" r="10.5"/><circle cx="781.34" cy="2012.9" r="10.5"/><circle cx="805.17" cy="2011.6" r="10.5"/><circle cx="852.84" cy="2003.9" r="10.5"/><circle cx="900.5" cy="1993.6" r="10.5"/><circle cx="948.16" cy="1989.8" r="10.5"/><circle cx="995.83" cy="1982.6" r="10.5"/><circle cx="1043.49" cy="1982.6" r="10.5"/><circle cx="1091.16" cy="1982.1" r="10.5"/><circle cx="1138.82" cy="1985.9" r="10.5"/><circle cx="1186.49" cy="1984.7" r="10.5"/><circle cx="1234.15" cy="1978.2" r="10.5"/><circle cx="1281.81" cy="1978.2" r="10.5"/><circle cx="1329.48" cy="1973.1" r="10.5"/><circle cx="1377.14" cy="1975.7" r="10.5"/><circle cx="1424.81" cy="1979.5" r="10.5"/><circle cx="1472.47" cy="1982.1" r="10.5"/><circle cx="1520.14" cy="1978.2" r="10.5"/><circle cx="1567.8" cy="1978.2" r="10.5"/><circle cx="1615.46" cy="1977" r="10.5"/><circle cx="1663.13" cy="1979.5" r="10.5"/><circle cx="1710.79" cy="1981.6" r="10.5"/><circle cx="1758.46" cy="2061.4" r="10.5"/><circle cx="1806.12" cy="2134.5" r="10.5"/><circle cx="1853.79" cy="2123.5" r="10.5"/><circle cx="1901.45" cy="2200.5" r="10.5"/><circle cx="1949.11" cy="2279.3" r="10.5"/><circle cx="1996.78" cy="2336.9" r="10.5"/><circle cx="2044.44" cy="2466.8" r="10.5"/><circle cx="2092.11" cy="2398" r="10.5"/><circle cx="2139.77" cy="2423.7" r="10.5"/><circle cx="2187.44" cy="2449.3" r="10.5"/><circle cx="2228.55" cy="2475.9" r="10.5"/></g>
<path d="M257.03 2767.5V2828M246.03 2767.5h22M246.03 2828h22M280.86 2670.1V2710.8M269.86 2670.1h22M269.86 2710.8h22M304.7 2492.3V2615.5M293.7 2492.3h22M293.7 2615.5h22M328.53 2397.7V2462.2M317.53 2397.7h22M317.53 2462.2h22M352.36 2310.3V2359M341.36 2310.3h22M341.36 2359h22M376.19 2238.7V2308.9M365.19 2238.7h22M365.19 2308.9h22M400.02 2195.6V2241.5M389.02 2195.6h22M389.02 2241.5h22M423.86 2153.6V2233.7M412.86 2153.6h22M412.86 2233.7h22M447.69 2157.5V2192.7M436.69 2157.5h22M436.69 2192.7h22M471.52 2132.1V2181.9M460.52 2132.1h22M460.52 2181.9h22M495.35 2104.7V2157.5M484.35 2104.7h22M484.35 2157.5h22M519.19 2080.3V2143.8M508.19 2080.3h22M508.19 2143.8h22M543.02 2072.5V2121.3M532.02 2072.5h22M532.02 2121.3h22M566.85 2061.1V2096.9M555.85 2061.1h22M555.85 2096.9h22M590.68 2049V2085.2M579.68 2049h22M579.68 2085.2h22M614.51 2031.8V2077.9M603.51 2031.8h22M603.51 2077.9h22M638.35 2023.2V2066.6M627.35 2023.2h22M627.35 2066.6h22M662.18 2017.7V2051M651.18 2017.7h22M651.18 2051h22M686.01 2005V2040M675.01 2005h22M675.01 2040h22M709.84 2003.9V2036M698.84 2003.9h22M698.84 2036h22M733.67 1988.5V2050.8M722.67 1988.5h22M722.67 2050.8h22M757.51 1996.2V2042.4M746.51 1996.2h22M746.51 2042.4h22M781.34 1993.6V2033.9M770.34 1993.6h22M770.34 2033.9h22M805.17 1985.2V2039.8M794.17 1985.2h22M794.17 2039.8h22M852.84 1974.4V2029M841.84 1974.4h22M841.84 2029h22M900.5 1976.2V2012.1M889.5 1976.2h22M889.5 2012.1h22M948.16 1968V2015.4M937.16 1968h22M937.16 2015.4h22M995.83 1958.5V2007.2M984.83 1958.5h22M984.83 2007.2h22M1043.49 1962.9V2002.6M1032.49 1962.9h22M1032.49 2002.6h22M1091.16 1958.5V2009M1080.16 1958.5h22M1080.16 2009h22M1138.82 1969.3V2003.9M1127.82 1969.3h22M1127.82 2003.9h22M1186.49 1958.5V2009.8M1175.49 1958.5h22M1175.49 2009.8h22M1234.15 1958.5V1989.8M1223.15 1958.5h22M1223.15 1989.8h22M1281.81 1950V2009.8M1270.81 1950h22M1270.81 2009.8h22M1329.48 1950V1991M1318.48 1950h22M1318.48 1991h22M1377.14 1951.3V2001.3M1366.14 1951.3h22M1366.14 2001.3h22M1424.81 1960.8V2000.8M1413.81 1960.8h22M1413.81 2000.8h22M1472.47 1962.3V1998.6M1461.47 1962.3h22M1461.47 1998.6h22M1520.14 1952.6V1998.8M1509.14 1952.6h22M1509.14 1998.8h22M1567.8 1950V1998.8M1556.8 1950h22M1556.8 1998.8h22M1615.46 1952.6V2001.8M1604.46 1952.6h22M1604.46 2001.8h22M1663.13 1941.6V2015.4M1652.13 1941.6h22M1652.13 2015.4h22M1710.79 1961.1V2001.8M1699.79 1961.1h22M1699.79 2001.8h22M1758.46 2032V2094.6M1747.46 2032h22M1747.46 2094.6h22M1806.12 2116.2V2153.8M1795.12 2116.2h22M1795.12 2153.8h22M1853.79 2089.3V2160.2M1842.79 2089.3h22M1842.79 2160.2h22M1901.45 2176.1V2227.6M1890.45 2176.1h22M1890.45 2227.6h22M1949.11 2258.2V2298.9M1938.11 2258.2h22M1938.11 2298.9h22M1996.78 2306.2V2376.7M1985.78 2306.2h22M1985.78 2376.7h22M2044.44 2429.7V2506.2M2033.44 2429.7h22M2033.44 2506.2h22M2092.11 2378.4V2419.1M2081.11 2378.4h22M2081.11 2419.1h22M2139.77 2397.1V2451.7M2128.77 2397.1h22M2128.77 2451.7h22M2187.44 2435.6V2470.4M2176.44 2435.6h22M2176.44 2470.4h22M2228.55 2452.1V2504.3M2217.55 2452.1h22M2217.55 2504.3h22" stroke="#262626" stroke-width="3.2" fill="none"/>
<path d="M258.4 2823.7 L259.07 2819.76 L259.74 2815.81 L260.4 2811.87 L261.05 2807.92 L261.71 2803.98 L262.35 2800.03 L262.99 2796.08 L263.63 2792.12 L264.26 2788.17 L264.89 2784.22 L265.52 2780.26 L266.14 2776.3 L266.76 2772.35 L267.37 2768.39 L267.98 2764.43 L268.59 2760.47 L269.2 2756.51 L269.8 2752.55 L270.41 2748.58 L271.01 2744.62 L271.61 2740.66 L272.2 2736.69 L272.8 2732.73 L273.4 2728.76 L273.99 2724.8 L274.58 2720.83 L275.18 2716.86 L275.77 2712.9 L276.36 2708.93 L276.96 2704.96 L277.55 2701 L278.15 2697.03 L278.74 2693.06 L279.34 2689.1 L279.94 2685.13 L280.53 2681.17 L281.14 2677.2 L281.74 2673.23 L282.34 2669.27 L282.95 2665.31 L283.56 2661.34 L284.18 2657.38 L284.79 2653.41 L285.41 2649.45 L286.03 2645.49 L286.66 2641.53 L287.29 2637.57 L287.92 2633.61 L288.56 2629.65 L289.21 2625.7 L289.85 2621.74 L290.51 2617.78 L291.17 2613.83 L291.83 2609.88 L292.5 2605.93 L293.17 2601.98 L293.85 2598.03 L294.54 2594.08 L295.23 2590.13 L295.93 2586.19 L296.64 2582.25 L297.35 2578.31 L298.08 2574.37 L298.8 2570.43 L299.54 2566.49 L300.28 2562.56 L301.04 2558.63 L301.8 2554.7 L302.57 2550.77 L303.35 2546.84 L304.13 2542.92 L304.93 2539 L305.73 2535.08 L306.55 2531.16 L307.37 2527.24 L308.21 2523.33 L309.05 2519.42 L309.91 2515.51 L310.78 2511.61 L311.65 2507.71 L312.54 2503.81 L313.44 2499.91 L314.35 2496.02 L315.27 2492.12 L316.2 2488.23 L317.14 2484.34 L318.09 2480.46 L319.05 2476.58 L320.02 2472.7 L321 2468.82 L321.99 2464.94 L322.98 2461.07 L323.99 2457.2 L325.01 2453.33 L326.04 2449.46 L327.08 2445.6 L328.12 2441.73 L329.18 2437.87 L330.24 2434.01 L331.32 2430.16 L332.4 2426.3 L333.49 2422.45 L334.59 2418.6 L335.7 2414.75 L336.82 2410.91 L337.95 2407.06 L339.09 2403.22 L340.23 2399.38 L341.38 2395.54 L342.54 2391.7 L343.71 2387.87 L344.89 2384.03 L346.08 2380.2 L347.27 2376.37 L348.47 2372.54 L349.68 2368.72 L350.9 2364.89 L352.12 2361.07 L353.36 2357.25 L354.6 2353.43 L355.84 2349.61 L357.1 2345.79 L358.37 2341.98 L359.65 2338.18 L360.95 2334.37 L362.26 2330.58 L363.59 2326.79 L364.93 2323.01 L366.3 2319.24 L367.68 2315.47 L369.09 2311.72 L370.52 2307.98 L371.97 2304.24 L373.45 2300.52 L374.96 2296.82 L376.5 2293.13 L378.06 2289.45 L379.66 2285.79 L381.29 2282.14 L382.96 2278.52 L384.66 2274.91 L386.4 2271.32 L388.18 2267.75 L389.99 2264.19 L391.85 2260.66 L393.74 2257.15 L395.67 2253.66 L397.64 2250.19 L399.64 2246.73 L401.67 2243.29 L403.74 2239.87 L405.83 2236.47 L407.95 2233.08 L410.1 2229.7 L412.28 2226.34 L414.47 2222.99 L416.7 2219.65 L418.94 2216.32 L421.2 2213.01 L423.48 2209.71 L425.78 2206.41 L428.09 2203.13 L430.42 2199.85 L432.76 2196.59 L435.11 2193.32 L437.47 2190.07 L439.84 2186.82 L442.22 2183.58 L444.6 2180.34 L446.99 2177.1 L449.38 2173.88 L451.79 2170.66 L454.21 2167.46 L456.65 2164.27 L459.11 2161.11 L461.6 2157.98 L464.12 2154.88 L466.67 2151.81 L469.26 2148.78 L471.9 2145.8 L474.58 2142.86 L477.32 2139.98 L480.11 2137.15 L482.96 2134.38 L485.87 2131.68 L488.85 2129.04 L491.89 2126.47 L495 2123.97 L498.17 2121.54 L501.4 2119.17 L504.67 2116.86 L508 2114.62 L511.36 2112.42 L514.76 2110.29 L518.19 2108.21 L521.65 2106.18 L525.14 2104.19 L528.65 2102.26 L532.18 2100.37 L535.74 2098.53 L539.32 2096.74 L542.92 2094.98 L546.54 2093.27 L550.18 2091.6 L553.83 2089.96 L557.51 2088.37 L561.2 2086.81 L564.91 2085.28 L568.64 2083.79 L572.38 2082.33 L576.13 2080.91 L579.89 2079.51 L583.67 2078.14 L587.46 2076.8 L591.26 2075.48 L595.06 2074.19 L598.88 2072.92 L602.7 2071.67 L606.53 2070.45 L610.36 2069.24 L614.2 2068.05 L618.05 2066.88 L621.9 2065.72 L625.75 2064.58 L629.6 2063.45 L633.45 2062.33 L637.3 2061.22 L641.15 2060.12 L645 2059.03 L648.85 2057.95 L652.69 2056.87 L656.53 2055.79 L660.38 2054.73 L664.22 2053.66 L668.06 2052.6 L671.89 2051.55 L675.73 2050.49 L679.57 2049.44 L683.41 2048.4 L687.24 2047.35 L691.08 2046.3 L694.92 2045.26 L698.75 2044.21 L702.59 2043.17 L706.43 2042.12 L710.27 2041.07 L714.11 2040.02 L717.96 2038.96 L721.8 2037.91 L725.65 2036.85 L729.49 2035.78 L733.34 2034.71 L737.2 2033.64 L741.05 2032.56 L744.91 2031.48 L748.77 2030.39 L752.63 2029.3 L756.49 2028.22 L760.36 2027.13 L764.23 2026.04 L768.1 2024.95 L771.97 2023.86 L775.85 2022.77 L779.72 2021.69 L783.6 2020.6 L787.49 2019.52 L791.37 2018.45 L795.26 2017.38 L799.14 2016.31 L803.03 2015.26 L806.93 2014.2 L810.82 2013.16 L814.72 2012.12 L818.62 2011.09 L822.52 2010.07 L826.42 2009.06 L830.33 2008.06 L834.23 2007.07 L838.14 2006.09 L842.06 2005.13 L845.97 2004.17 L849.88 2003.23 L853.8 2002.31 L857.72 2001.4 L861.65 2000.5 L865.57 1999.62 L869.5 1998.76 L873.42 1997.91 L877.35 1997.08 L881.29 1996.27 L885.22 1995.48 L889.16 1994.71 L893.1 1993.96 L897.04 1993.23 L900.98 1992.52 L904.92 1991.83 L908.87 1991.17 L912.82 1990.52 L916.77 1989.91 L920.72 1989.31 L924.68 1988.75 L928.63 1988.21 L932.59 1987.69 L936.55 1987.2 L940.52 1986.74 L944.48 1986.31 L948.45 1985.91 L952.42 1985.54 L956.39 1985.19 L960.36 1984.88 L964.33 1984.6 L968.31 1984.35 L972.29 1984.13 L976.27 1983.94 L980.25 1983.78 L984.23 1983.65 L988.22 1983.54 L992.2 1983.47 L996.19 1983.41 L1000.18 1983.39 L1004.17 1983.38 L1008.16 1983.4 L1012.16 1983.45 L1016.15 1983.51 L1020.15 1983.6 L1024.15 1983.71 L1028.14 1983.84 L1032.14 1983.98 L1036.14 1984.15 L1040.15 1984.33 L1044.15 1984.53 L1048.15 1984.74 L1052.16 1984.97 L1056.16 1985.21 L1060.17 1985.47 L1064.18 1985.74 L1068.18 1986.02 L1072.19 1986.31 L1076.2 1986.62 L1080.21 1986.93 L1084.22 1987.25 L1088.23 1987.58 L1092.24 1987.92 L1096.25 1988.26 L1100.27 1988.61 L1104.28 1988.97 L1108.29 1989.33 L1112.3 1989.69 L1116.31 1990.05 L1120.33 1990.42 L1124.34 1990.79 L1128.35 1991.16 L1132.36 1991.53 L1136.37 1991.89 L1140.39 1992.26 L1144.4 1992.62 L1148.41 1992.98 L1152.42 1993.33 L1156.43 1993.68 L1160.44 1994.03 L1164.45 1994.36 L1168.46 1994.69 L1172.47 1995.02 L1176.48 1995.33 L1180.48 1995.63 L1184.49 1995.92 L1188.5 1996.21 L1192.5 1996.48 L1196.51 1996.73 L1200.51 1996.98 L1204.51 1997.2 L1208.51 1997.42 L1212.51 1997.62 L1216.51 1997.8 L1220.51 1997.96 L1224.51 1998.11 L1228.5 1998.23 L1232.5 1998.34 L1236.49 1998.43 L1240.48 1998.49 L1244.47 1998.54 L1248.46 1998.57 L1252.45 1998.57 L1256.43 1998.56 L1260.42 1998.53 L1264.41 1998.48 L1268.39 1998.41 L1272.37 1998.32 L1276.35 1998.21 L1280.33 1998.09 L1284.31 1997.95 L1288.29 1997.8 L1292.27 1997.62 L1296.25 1997.44 L1300.23 1997.23 L1304.2 1997.01 L1308.18 1996.78 L1312.15 1996.53 L1316.13 1996.26 L1320.1 1995.99 L1324.08 1995.69 L1328.05 1995.39 L1332.03 1995.07 L1336 1994.74 L1339.97 1994.4 L1343.95 1994.04 L1347.92 1993.67 L1351.89 1993.29 L1355.87 1992.9 L1359.84 1992.5 L1363.81 1992.09 L1367.79 1991.67 L1371.76 1991.24 L1375.73 1990.8 L1379.71 1990.35 L1383.68 1989.89 L1387.66 1989.42 L1391.63 1988.94 L1395.61 1988.46 L1399.59 1987.97 L1403.56 1987.47 L1407.54 1986.96 L1411.52 1986.45 L1415.5 1985.93 L1419.48 1985.41 L1423.46 1984.88 L1427.44 1984.34 L1431.42 1983.8 L1435.41 1983.26 L1439.39 1982.71 L1443.38 1982.16 L1447.36 1981.6 L1451.35 1981.04 L1455.34 1980.48 L1459.33 1979.91 L1463.32 1979.35 L1467.31 1978.78 L1471.31 1978.2 L1475.3 1977.63 L1479.3 1977.06 L1483.3 1976.48 L1487.3 1975.91 L1491.3 1975.33 L1495.3 1974.76 L1499.31 1974.19 L1503.31 1973.63 L1507.32 1973.08 L1511.32 1972.54 L1515.33 1972.01 L1519.33 1971.5 L1523.33 1971.02 L1527.34 1970.55 L1531.34 1970.11 L1535.34 1969.7 L1539.33 1969.32 L1543.33 1968.97 L1547.32 1968.66 L1551.31 1968.38 L1555.29 1968.15 L1559.27 1967.96 L1563.25 1967.81 L1567.22 1967.71 L1571.19 1967.67 L1575.15 1967.68 L1579.11 1967.74 L1583.06 1967.87 L1587.01 1968.05 L1590.94 1968.3 L1594.88 1968.62 L1598.8 1969 L1602.72 1969.46 L1606.63 1969.99 L1610.53 1970.6 L1614.42 1971.29 L1618.31 1972.06 L1622.18 1972.91 L1626.05 1973.86 L1629.9 1974.89 L1633.75 1976.01 L1637.58 1977.22 L1641.41 1978.51 L1645.22 1979.88 L1649.01 1981.32 L1652.79 1982.83 L1656.55 1984.4 L1660.29 1986.03 L1664.02 1987.71 L1667.72 1989.44 L1671.41 1991.22 L1675.07 1993.04 L1678.71 1994.89 L1682.32 1996.77 L1685.91 1998.67 L1689.47 2000.6 L1693 2002.54 L1696.51 2004.5 L1699.98 2006.47 L1703.42 2008.46 L1706.83 2010.48 L1710.21 2012.55 L1713.55 2014.65 L1716.85 2016.81 L1720.12 2019.03 L1723.34 2021.31 L1726.53 2023.66 L1729.68 2026.06 L1732.8 2028.52 L1735.88 2031.04 L1738.92 2033.6 L1741.93 2036.22 L1744.91 2038.87 L1747.86 2041.58 L1750.78 2044.32 L1753.68 2047.1 L1756.54 2049.92 L1759.38 2052.77 L1762.19 2055.65 L1764.98 2058.56 L1767.74 2061.49 L1770.49 2064.44 L1773.21 2067.42 L1775.91 2070.41 L1778.59 2073.41 L1781.26 2076.43 L1783.9 2079.46 L1786.53 2082.5 L1789.15 2085.55 L1791.75 2088.61 L1794.33 2091.69 L1796.9 2094.77 L1799.45 2097.87 L1801.99 2100.97 L1804.52 2104.08 L1807.03 2107.2 L1809.53 2110.33 L1812.03 2113.47 L1814.51 2116.61 L1816.98 2119.77 L1819.44 2122.92 L1821.89 2126.09 L1824.33 2129.26 L1826.77 2132.43 L1829.2 2135.62 L1831.62 2138.8 L1834.03 2141.99 L1836.44 2145.19 L1838.85 2148.38 L1841.25 2151.58 L1843.65 2154.79 L1846.04 2157.99 L1848.43 2161.2 L1850.82 2164.41 L1853.21 2167.62 L1855.59 2170.83 L1857.98 2174.04 L1860.36 2177.26 L1862.75 2180.47 L1865.13 2183.68 L1867.52 2186.89 L1869.91 2190.1 L1872.31 2193.3 L1874.71 2196.51 L1877.11 2199.71 L1879.51 2202.91 L1881.93 2206.1 L1884.34 2209.29 L1886.77 2212.48 L1889.2 2215.66 L1891.64 2218.84 L1894.08 2222.02 L1896.53 2225.19 L1898.98 2228.36 L1901.43 2231.52 L1903.89 2234.69 L1906.35 2237.85 L1908.8 2241.02 L1911.26 2244.18 L1913.72 2247.35 L1916.17 2250.52 L1918.62 2253.69 L1921.06 2256.87 L1923.5 2260.04 L1925.94 2263.23 L1928.37 2266.41 L1930.79 2269.61 L1933.2 2272.81 L1935.6 2276.01 L1937.99 2279.22 L1940.37 2282.45 L1942.74 2285.68 L1945.1 2288.92 L1947.44 2292.16 L1949.76 2295.42 L1952.07 2298.69 L1954.37 2301.98 L1956.65 2305.27 L1958.9 2308.58 L1961.14 2311.9 L1963.36 2315.23 L1965.57 2318.58 L1967.76 2321.93 L1969.94 2325.29 L1972.11 2328.66 L1974.28 2332.03 L1976.45 2335.4 L1978.61 2338.78 L1980.77 2342.15 L1982.94 2345.51 L1985.12 2348.87 L1987.3 2352.23 L1989.5 2355.57 L1991.71 2358.91 L1993.94 2362.23 L1996.19 2365.54 L1998.45 2368.83 L2000.75 2372.1 L2003.07 2375.35 L2005.42 2378.58 L2007.8 2381.79 L2010.21 2384.97 L2012.67 2388.12 L2015.16 2391.24 L2017.69 2394.34 L2020.27 2397.4 L2022.89 2400.42 L2025.56 2403.41 L2028.29 2406.36 L2031.07 2409.27 L2033.91 2412.14 L2036.8 2414.96 L2039.75 2417.74 L2042.75 2420.46 L2045.81 2423.13 L2048.93 2425.73 L2052.09 2428.28 L2055.3 2430.75 L2058.56 2433.16 L2061.87 2435.49 L2065.23 2437.74 L2068.63 2439.91 L2072.08 2442 L2075.57 2444 L2079.1 2445.91 L2082.67 2447.73 L2086.28 2449.47 L2089.92 2451.11 L2093.6 2452.68 L2097.31 2454.15 L2101.06 2455.54 L2104.83 2456.84 L2108.63 2458.05 L2112.45 2459.17 L2116.31 2460.21 L2120.18 2461.16 L2124.07 2462.02 L2127.99 2462.8 L2131.92 2463.49 L2135.86 2464.09 L2139.82 2464.6 L2143.8 2465.03 L2147.78 2465.37 L2151.78 2465.64 L2155.78 2465.84 L2159.79 2465.97 L2163.81 2466.06 L2167.83 2466.1 L2171.86 2466.11 L2175.89 2466.09 L2179.92 2466.06 L2183.95 2466.02 L2187.98 2465.97 L2192.01 2465.94 L2196.04 2465.93 L2200.07 2465.94 L2204.09 2465.98 L2208.1 2466.07 L2212.11 2466.21 L2216.11 2466.41 L2220.1 2466.69 L2224.08 2467.03 L2228.04 2467.47 L2232 2468" fill="none" stroke="#0000dc" stroke-width="8" stroke-linejoin="round" stroke-linecap="butt"/>
</svg>
</body></html>
